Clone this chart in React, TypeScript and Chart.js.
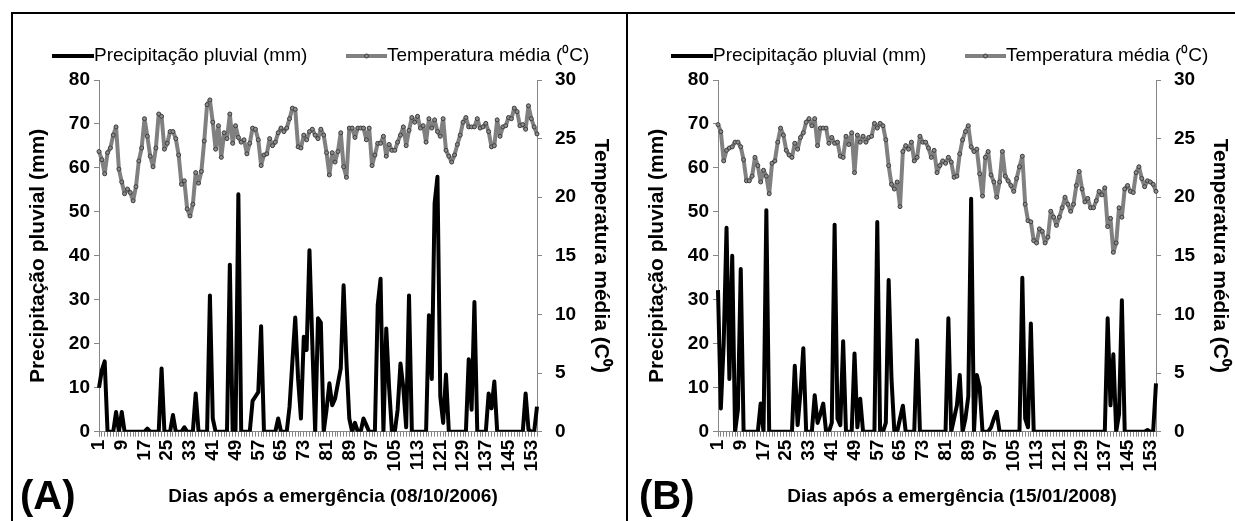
import React, { useEffect, useRef } from "react";
import { Chart, registerables } from "chart.js";

Chart.register(...registerables);

// ---------- data ----------
const days: string[] = Array.from({ length: 155 }, (_, i) => String(i + 1));
const xTickLabels = ["1", "9", "17", "25", "33", "41", "49", "57", "65", "73", "81", "89", "97", "105", "113", "121", "129", "137", "145", "153"];

const precipA = [
  10, 14, 16, 0, 0, 0, 4.5, 0, 4.5, 0,
  0, 0, 0, 0, 0, 0, 0, 0.7, 0, 0,
  0, 0, 14.4, 0, 0, 0, 3.8, 0, 0, 0,
  1, 0, 0, 0, 8.7, 0, 0, 0, 0, 31,
  3, 0, 0, 0, 0, 0, 38, 0, 0, 54,
  0, 0, 0, 0, 7, 8, 9, 24, 0, 0,
  0, 0, 0, 3, 0, 0, 0, 5.7, 16, 26,
  12, 3, 21.6, 18.6, 41.3, 20, 0, 25.8, 24.8, 0,
  5, 11, 6, 7.5, 11, 14.4, 33.3, 16, 3, 0,
  2, 0, 0, 3, 1.5, 0, 0, 0, 28.8, 34.8,
  0, 23.5, 10, 0, 0, 5, 15.5, 10, 1, 31,
  0, 0, 0, 0, 0, 0, 26.5, 12, 52, 58,
  8, 2, 13, 0, 0, 0, 0, 0, 0, 0,
  16.5, 5, 29.5, 0, 0, 0, 0, 8.7, 5.3, 11.4,
  0, 0, 0, 0, 0, 0, 0, 0, 0, 0,
  8.7, 0.5, 0, 0, 5.7,
];

const tempA = [
  23.9, 23.2, 22.0, 23.8, 24.2, 25.3, 26.0, 22.4, 21.3, 20.3,
  20.7, 20.4, 19.7, 20.9, 23.1, 24.2, 26.7, 25.2, 23.5, 22.6,
  24.2, 27.1, 26.9, 24.1, 24.6, 25.6, 25.6, 25.0, 23.6, 21.1,
  21.4, 19.0, 18.4, 19.4, 22.1, 21.2, 22.2, 24.8, 27.9, 28.3,
  26.4, 24.1, 26.1, 23.4, 25.5, 25.0, 27.1, 24.6, 26.1, 25.1,
  24.7, 24.9, 23.7, 24.6, 25.9, 25.8, 24.9, 22.7, 23.6, 23.7,
  25.0, 24.4, 24.7, 25.5, 25.9, 25.6, 25.9, 26.7, 27.6, 27.5,
  24.3, 24.2, 25.3, 24.9, 25.6, 25.8, 25.3, 25.0, 25.8, 25.3,
  23.8, 21.9, 23.8, 23.0, 23.9, 25.5, 22.6, 21.7, 25.9, 25.9,
  25.1, 25.9, 25.9, 25.9, 24.9, 25.9, 22.7, 23.6, 24.6, 24.6,
  25.2, 23.5, 24.5, 24.0, 24.0, 24.7, 25.3, 26.0, 24.4, 25.7,
  26.8, 26.4, 26.9, 25.9, 26.1, 24.7, 26.7, 25.9, 26.6, 25.6,
  25.2, 26.7, 24.0, 23.5, 23.0, 23.6, 24.5, 25.3, 26.4, 26.8,
  26.0, 26.0, 26.0, 26.7, 25.9, 26.0, 26.3, 25.6, 24.3, 24.4,
  26.6, 25.2, 26.0, 26.1, 26.8, 26.7, 27.6, 27.3, 26.1, 26.2,
  25.8, 27.8, 26.7, 26.0, 25.4,
];

const precipB = [
  32.2, 5.3, 20, 46.4, 12, 40, 0, 5, 37, 0,
  0, 0, 0, 0, 0, 6.4, 0, 50.4, 0, 0,
  0, 0, 0, 0, 0, 0, 0, 15, 1.5, 9,
  19, 0, 0, 0, 8.3, 2, 4, 6.4, 0, 0,
  2, 47.1, 3, 1.5, 20.6, 0, 0, 0, 17.8, 1,
  7.5, 0, 0, 0, 0, 0, 47.7, 0, 0, 2,
  34.5, 12, 0, 0, 3, 5.9, 0, 0, 0, 0,
  20.8, 0, 0, 0, 0, 0, 0, 0, 0, 0,
  0, 25.8, 0, 3, 6, 12.9, 0, 3, 8, 53,
  0, 12.9, 10.2, 0, 0, 0, 1, 3, 4.5, 0,
  0, 0, 0, 0, 0, 0, 0, 35, 3, 1,
  24.6, 0, 0, 0, 0, 0, 0, 0, 0, 0,
  0, 0, 0, 0, 0, 0, 0, 0, 0, 0,
  0, 0, 0, 0, 0, 0, 0, 25.8, 6, 17.6,
  0, 4, 29.9, 0, 0, 0, 0, 0, 0, 0,
  0, 0.4, 0, 0, 11,
];

const tempB = [
  26.2, 25.6, 23.1, 24.0, 24.2, 24.3, 24.7, 24.7, 24.3, 23.2,
  21.4, 21.4, 21.8, 23.4, 22.7, 21.3, 22.3, 21.8, 20.3, 22.9,
  23.1, 24.7, 25.9, 25.3, 24.0, 23.6, 23.4, 24.6, 24.1, 25.1,
  25.5, 26.4, 26.7, 26.1, 26.7, 24.4, 25.9, 25.9, 25.9, 24.6,
  25.1, 24.6, 24.7, 23.5, 23.4, 25.2, 24.5, 25.5, 22.1, 25.3,
  24.7, 25.2, 24.7, 25.1, 25.2, 26.3, 25.9, 26.3, 26.1, 24.9,
  22.7, 21.1, 20.7, 21.3, 19.2, 23.9, 24.4, 24.1, 24.7, 23.1,
  23.4, 25.2, 24.7, 24.7, 24.2, 23.4, 24.0, 22.1, 22.7, 23.1,
  22.9, 23.4, 23.0, 21.7, 21.8, 23.7, 24.9, 25.6, 26.1, 24.3,
  23.9, 24.1, 22.0, 20.1, 23.4, 23.9, 21.9, 21.3, 20.0, 21.3,
  23.9, 21.8, 21.4, 21.0, 20.5, 21.6, 22.6, 23.5, 19.4, 18.0,
  17.9, 16.3, 16.1, 17.3, 17.1, 16.1, 16.6, 18.8, 18.3, 17.6,
  18.3, 19.1, 20.0, 19.4, 18.8, 19.4, 21.0, 22.2, 20.7, 19.6,
  19.9, 19.1, 19.1, 19.7, 20.5, 20.2, 20.8, 17.5, 18.2, 15.3,
  16.1, 19.1, 18.3, 20.7, 21.0, 20.5, 20.4, 22.1, 22.6, 21.6,
  20.9, 21.4, 21.3, 21.1, 20.5,
];

const legendLabels = ["Precipitação pluvial (mm)", "Temperatura média (⁰C)"];
const yLeftTitle = "Precipitação pluvial (mm)";
const yRightTitle = "Temperatura média (C⁰)";
const xTitleA = "Dias após a emergência (08/10/2006)";
const xTitleB = "Dias após a emergência (15/01/2008)";

// ---------- styling ----------
const FONT = '"Liberation Sans", Arial, Helvetica, sans-serif';
const AXIS_GREY = "#868686";
const TEMP_GREY = "#808080";

const overlayPlugin = {
  id: "overlay",
  afterDraw(chart: any, _args: any, opts: any) {
    const ctx = chart.ctx;
    ctx.save();
    const y = opts.legendY;
    ctx.lineCap = "butt";
    ctx.strokeStyle = "#000";
    ctx.lineWidth = 4;
    ctx.beginPath();
    ctx.moveTo(43, y);
    ctx.lineTo(85, y);
    ctx.stroke();
    ctx.font = `19px ${FONT}`;
    ctx.fillStyle = "#000";
    ctx.textBaseline = "middle";
    ctx.textAlign = "left";
    ctx.fillText(legendLabels[0], 85, y);
    ctx.strokeStyle = TEMP_GREY;
    ctx.lineWidth = 4;
    ctx.beginPath();
    ctx.moveTo(337, y);
    ctx.lineTo(378, y);
    ctx.stroke();
    ctx.beginPath();
    ctx.arc(357.5, y, 2, 0, Math.PI * 2);
    ctx.fillStyle = "#8c8c8c";
    ctx.fill();
    ctx.lineWidth = 1;
    ctx.strokeStyle = "#3f3f3f";
    ctx.stroke();
    ctx.fillStyle = "#000";
    ctx.fillText(legendLabels[1], 378, y);
    // x axis title
    ctx.font = `bold 19px ${FONT}`;
    ctx.textAlign = "center";
    ctx.fillText(opts.xTitle, chart.chartArea.left + (chart.chartArea.right - chart.chartArea.left) / 2 + 15, 484);
    // panel letter
    ctx.font = `bold 40px ${FONT}`;
    ctx.textAlign = "left";
    ctx.fillText(opts.letter, 11, 485);
    ctx.restore();
  },
};

function Panel(props: { precip: number[]; temp: number[]; xTitle: string; letter: string; left: number }) {
  const ref = useRef<HTMLCanvasElement>(null);
  useEffect(() => {
    const tickFont = { family: FONT, size: 19, weight: "bold" as const };
    const titleFont = { family: FONT, size: 21, weight: "bold" as const };
    const chart = new Chart(ref.current as HTMLCanvasElement, {
      type: "line",
      data: {
        labels: days,
        datasets: [
          {
            label: legendLabels[0],
            data: props.precip,
            yAxisID: "y",
            borderColor: "#000",
            backgroundColor: "#000",
            borderWidth: 4,
            pointRadius: 0,
            tension: 0,
            borderJoinStyle: "round",
          },
          {
            label: legendLabels[1],
            data: props.temp,
            yAxisID: "y1",
            borderColor: TEMP_GREY,
            backgroundColor: "#8c8c8c",
            borderWidth: 4,
            pointRadius: 2,
            pointBorderWidth: 1,
            pointBackgroundColor: "#8c8c8c",
            pointBorderColor: "#3f3f3f",
            tension: 0,
            borderJoinStyle: "round",
          },
        ],
      },
      options: {
        animation: false,
        responsive: false,
        devicePixelRatio: 1,
        layout: { padding: { top: 67, left: 0, right: 0, bottom: 0 } },
        plugins: {
          legend: { display: false },
          tooltip: { enabled: false },
          overlay: { legendY: 43, letter: props.letter, xTitle: props.xTitle },
        } as any,
        scales: {
          x: {
            type: "category",
            offset: false,
            grid: { display: true, drawOnChartArea: false, drawTicks: true, tickLength: 5, color: AXIS_GREY },
            border: { display: true, color: AXIS_GREY, width: 1 },
            ticks: {
              autoSkip: false,
              maxRotation: 90,
              minRotation: 90,
              padding: 3,
              color: "#000",
              font: tickFont,
              callback: (_v: any, i: number) => (xTickLabels.includes(days[i]) ? days[i] : ""),
            },
            afterFit: (s: any) => {
              s.height = 89.3;
            },
          },
          y: {
            position: "left",
            min: 0,
            max: 80,
            grid: { display: true, drawOnChartArea: false, drawTicks: true, tickLength: 5, color: AXIS_GREY },
            border: { display: true, color: AXIS_GREY, width: 1 },
            ticks: { stepSize: 10, padding: 4, color: "#000", font: tickFont },
            title: { display: true, text: yLeftTitle, color: "#000", font: titleFont, padding: { top: 17, bottom: 0 } },
            afterFit: (s: any) => {
              s.width = 90;
            },
          },
          y1: {
            position: "right",
            min: 0,
            max: 30,
            grid: { display: true, drawOnChartArea: false, drawTicks: true, tickLength: 5, color: AXIS_GREY },
            border: { display: true, color: AXIS_GREY, width: 1 },
            ticks: { stepSize: 5, padding: 13, color: "#000", font: tickFont },
            title: { display: true, text: yRightTitle, color: "#000", font: titleFont, padding: { top: 3, bottom: 0 } },
            afterFit: (s: any) => {
              s.width = 79;
            },
          },
        },
      } as any,
      plugins: [overlayPlugin as any],
    });
    return () => chart.destroy();
  }, []);
  return (
    <canvas
      ref={ref}
      width={607}
      height={508}
      style={{ position: "absolute", left: props.left, top: 13, width: 607, height: 508 }}
    />
  );
}

export default function App() {
  return (
    <div style={{ position: "absolute", left: 0, top: 0, width: 1235, height: 521, overflow: "hidden", background: "#fff" }}>
      <div style={{ position: "absolute", left: 11, top: 12, width: 2, height: 509, background: "#000" }} />
      <div style={{ position: "absolute", left: 11, top: 12, width: 1224, height: 2, background: "#000" }} />
      <div style={{ position: "absolute", left: 626, top: 12, width: 2, height: 509, background: "#000" }} />
      <Panel precip={precipA} temp={tempA} xTitle={xTitleA} letter="(A)" left={9} />
      <Panel precip={precipB} temp={tempB} xTitle={xTitleB} letter="(B)" left={628} />
    </div>
  );
}
